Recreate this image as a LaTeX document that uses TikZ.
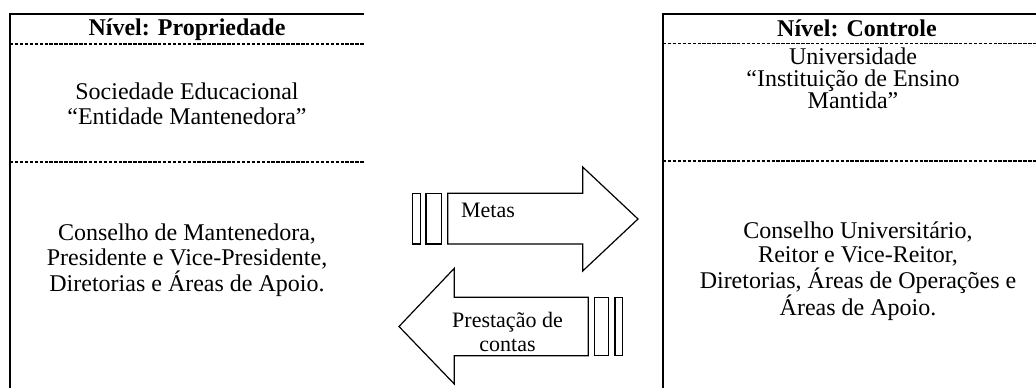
\documentclass[tikz,border=0pt]{standalone}
\usepackage{fontspec}
\setmainfont{Liberation Serif}

\tikzset{
  rule/.style={line width=0.8pt},
  cut/.style={line width=1pt,dash pattern={on 2.6pt off 1.1pt}},
  flow/.style={line width=0.9pt,line join=miter},
  cell/.style={inner sep=0pt,align=center,font=\fontsize{18}{19}\selectfont},
  head/.style={inner sep=0pt,anchor=base,font=\fontsize{18}{19}\selectfont\bfseries},
  tag/.style={inner sep=0pt,align=center,font=\fontsize{16.5}{18.5}\selectfont}
}

\begin{document}
\begin{tikzpicture}[x=0.75pt,y=0.75pt,yscale=-1,xscale=1]
\useasboundingbox (0,0) rectangle (1036,388);

%Shape: Table left [id:owner]
\draw [rule] (10,388) -- (10,14) -- (364,14) ;
\draw [cut] (10,44) -- (364,44) ;
\draw [cut] (10,162) -- (364,162) ;
%Shape: Table right [id:control]
\draw [rule] (663,388) -- (663,14) -- (1036,14) ;
\draw [cut] (663,43.5) -- (1036,43.5) ;
\draw [cut] (663,161) -- (1036,161) ;

%Shape: Arrow right [id:goals]
\draw [flow] (447.7,193.3) -- (582.7,193.3) -- (582.7,167) -- (638,219) -- (582.7,271) -- (582.7,244) -- (447.7,244) -- cycle ;
\draw [flow] (412.7,193.3) rectangle (420.7,244) ;
\draw [flow] (426,193.3) rectangle (441.7,244) ;
%Shape: Arrow left [id:report]
\draw [flow] (588.3,297.3) -- (454.3,297.3) -- (454.3,268.3) -- (399,326.5) -- (454.3,384) -- (454.3,355.7) -- (588.3,355.7) -- cycle ;
\draw [flow] (594.3,297.3) rectangle (608.3,355.7) ;
\draw [flow] (615,297.3) rectangle (622.7,355.7) ;

% Text Node
\node [head] (ownerHead) at (187,36) {Nível: Propriedade};
% Text Node
\node [cell] (ownerBody) at (187,104) {Sociedade Educacional\\“Entidade Mantenedora”};
% Text Node
\node [cell] (ownerBoard) at (187,260) {Conselho de Mantenedora,\\Presidente e Vice-Presidente,\\Diretorias e Áreas de Apoio.};
% Text Node
\node [head] (controlHead) at (857,36.5) {Nível: Controle};
% Text Node
\node [cell,font=\fontsize{18}{16.5}\selectfont] (controlBody) at (853,78) {Universidade\\“Instituição de Ensino\\Mantida”};
% Text Node
\node [cell,font=\fontsize{18}{18.2}\selectfont] (controlBoard) at (858,271) {Conselho Universitário,\\Reitor e Vice-Reitor,\\Diretorias, Áreas de Operações e\\Áreas de Apoio.};
% Text Node
\node [tag,anchor=base] (goalsText) at (488,218) {Metas};
% Text Node
\node [tag] (reportText) at (507.5,332) {Prestação de\\contas};

\end{tikzpicture}
\end{document}
